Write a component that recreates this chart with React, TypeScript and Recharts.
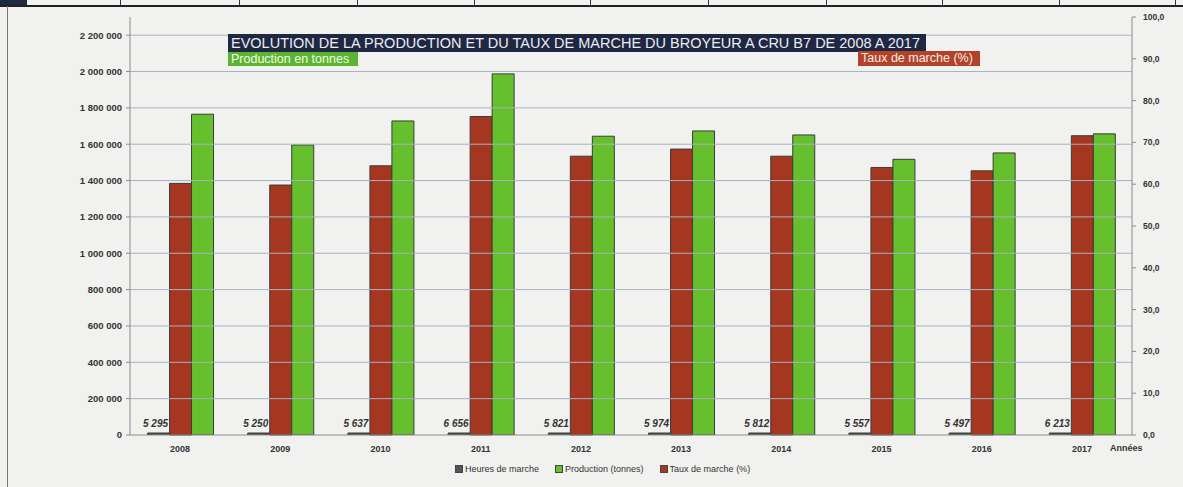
import * as React from "react";
import {
  Bar,
  BarChart,
  ReferenceLine,
  XAxis,
  YAxis,
  LabelList,
} from "recharts";

const years = ["2008", "2009", "2010", "2011", "2012", "2013", "2014", "2015", "2016", "2017"];
const heuresMarche = [5295, 5250, 5637, 6656, 5821, 5974, 5812, 5557, 5497, 6213];
const production = [1765000, 1596000, 1728000, 1987000, 1644000, 1673000, 1651000, 1517000, 1552000, 1657000];
const tauxMarche = [60.2, 59.8, 64.4, 76.2, 66.7, 68.4, 66.7, 64.0, 63.2, 71.6];

const leftTicks = [0, 200000, 400000, 600000, 800000, 1000000, 1200000, 1400000, 1600000, 1800000, 2000000, 2200000];
const rightTicks = [0, 10, 20, 30, 40, 50, 60, 70, 80, 90, 100];

const BROWN = "#a5361f";
const GREEN = "#66bf2c";
const DARK = "#3c3c3c";
const FONT = "'Liberation Sans', Arial, sans-serif";

const data = years.map((y, i) => ({
  year: y,
  heures: heuresMarche[i],
  production: production[i],
  taux: tauxMarche[i],
}));

// "5295" -> "5 295", "2200000" -> "2 200 000"
const spaced = (v: number) => String(v).replace(/\B(?=(\d{3})+(?!\d))/g, " ");

const HeuresLabel = (props: any) => {
  const { x, y, width, value } = props;
  return (
    <text
      x={Number(x) + Number(width) / 2 - 3}
      y={Number(y) - 6}
      textAnchor="middle"
      fontFamily={FONT}
      fontSize={10}
      fontStyle="italic"
      fontWeight="bold"
      fill="#333"
    >
      {spaced(value)}
    </text>
  );
};

const legendItems = [
  { label: "Heures de marche", color: "#555" },
  { label: "Production (tonnes)", color: GREEN },
  { label: "Taux de marche (%)", color: BROWN },
];

const colLines = [120, 239, 357, 474, 590, 708, 826, 942, 1059, 1175];

export default function App() {
  return (
    <div
      style={{
        position: "absolute",
        left: 0,
        top: 0,
        width: 1183,
        height: 487,
        background: "#f1f1ef",
        overflow: "hidden",
        fontFamily: FONT,
      }}
    >
      {/* scanned page frame */}
      <div style={{ position: "absolute", left: 0, top: 0, width: 27, height: 6, background: "#1e2a44" }} />
      <div style={{ position: "absolute", left: 0, top: 5, width: 1183, height: 2, background: "#222" }} />
      {colLines.map((x) => (
        <div key={x} style={{ position: "absolute", left: x, top: 0, width: 1, height: 6, background: "#333" }} />
      ))}
      <div style={{ position: "absolute", left: 7, top: 6, width: 1, height: 481, background: "#777" }} />

      <BarChart
        width={1183}
        height={487}
        data={data}
        margin={{ top: 17, right: 0, bottom: 32, left: 0 }}
        barCategoryGap="17.5%"
        barGap={0}
        style={{ position: "absolute", left: 0, top: 0 }}
      >
        <XAxis
          dataKey="year"
          height={20}
          axisLine={{ stroke: "#8c8c8c" }}
          tickLine={false}
          tickSize={4}
          tickMargin={7}
          tick={{ fontSize: 9, fontFamily: FONT, fill: "#333", fontWeight: 600 }}
          interval={0}
        />
        <YAxis
          yAxisId="left"
          orientation="left"
          width={130}
          domain={[0, 2300000]}
          ticks={leftTicks}
          allowDataOverflow
          tickFormatter={spaced}
          axisLine={{ stroke: "#8c8c8c" }}
          tickLine={{ stroke: "#8c8c8c" }}
          tickSize={4}
          tickMargin={4}
          tick={{ fontSize: 9.5, fontFamily: FONT, fill: "#333", fontWeight: "bold" }}
        />
        <YAxis
          yAxisId="right"
          orientation="right"
          width={51}
          domain={[0, 100]}
          ticks={rightTicks}
          tickFormatter={(v: number) => v.toFixed(1).replace(".", ",")}
          axisLine={{ stroke: "#8c8c8c" }}
          tickLine={{ stroke: "#8c8c8c" }}
          tickSize={4}
          tickMargin={7}
          tick={{ fontSize: 8.5, fontFamily: FONT, fill: "#333", fontWeight: "bold" }}
        />
        {/* horizontal grid on the left axis ticks only */}
        {leftTicks.slice(1).map((t) => (
          <ReferenceLine key={t} yAxisId="left" y={t} stroke="#a9b2bf" strokeWidth={1} />
        ))}
        <Bar
          yAxisId="left"
          dataKey="heures"
          name="Heures de marche"
          fill="#4a4a4a"
          stroke={DARK}
          strokeWidth={1}
          minPointSize={2}
          isAnimationActive={false}
        >
          <LabelList dataKey="heures" content={HeuresLabel} />
        </Bar>
        <Bar
          yAxisId="right"
          dataKey="taux"
          name="Taux de marche (%)"
          fill={BROWN}
          stroke={DARK}
          strokeWidth={1}
          isAnimationActive={false}
        />
        <Bar
          yAxisId="left"
          dataKey="production"
          name="Production (tonnes)"
          fill={GREEN}
          stroke={DARK}
          strokeWidth={1}
          isAnimationActive={false}
        />
      </BarChart>

      {/* title blocks */}
      <div
        style={{
          position: "absolute",
          left: 228,
          top: 34,
          width: 698,
          height: 18,
          background: "#1f2840",
          color: "#e9edf5",
          fontSize: 14.5,
          lineHeight: "18px",
          paddingLeft: 3,
          boxSizing: "border-box",
          whiteSpace: "nowrap",
          overflow: "hidden",
        }}
      >
        EVOLUTION DE LA PRODUCTION ET DU TAUX DE MARCHE DU BROYEUR A CRU B7 DE 2008 A 2017
      </div>
      <div
        style={{
          position: "absolute",
          left: 228,
          top: 52,
          width: 130,
          height: 14,
          background: "#5cb531",
          color: "#f4fbe9",
          fontSize: 12.5,
          lineHeight: "14px",
          paddingLeft: 3,
          boxSizing: "border-box",
          whiteSpace: "nowrap",
          overflow: "hidden",
        }}
      >
        Production en tonnes
      </div>
      <div
        style={{
          position: "absolute",
          left: 858,
          top: 51,
          width: 122,
          height: 15,
          background: "#b0432a",
          color: "#fbece6",
          fontSize: 12.5,
          lineHeight: "15px",
          paddingLeft: 3,
          boxSizing: "border-box",
          whiteSpace: "nowrap",
          overflow: "hidden",
        }}
      >
        Taux de marche (%)
      </div>

      <div
        style={{
          position: "absolute",
          left: 1110,
          top: 443,
          fontSize: 9,
          fontWeight: "bold",
          color: "#333",
        }}
      >
        Années
      </div>

      {/* legend */}
      <div
        style={{
          position: "absolute",
          left: 455,
          top: 464,
          display: "flex",
          gap: 16,
          fontSize: 9,
          color: "#333",
          whiteSpace: "nowrap",
        }}
      >
        {legendItems.map((it) => (
          <div key={it.label} style={{ display: "flex", alignItems: "center" }}>
            <span
              style={{
                display: "inline-block",
                width: 6,
                height: 6,
                background: it.color,
                border: "1px solid #444",
                marginRight: 2,
              }}
            />
            {it.label}
          </div>
        ))}
      </div>
    </div>
  );
}
